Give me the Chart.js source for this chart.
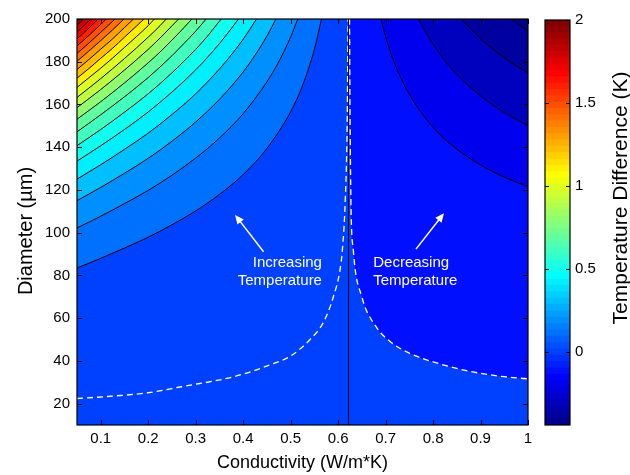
<!DOCTYPE html>
<html><head><meta charset="utf-8">
<script src="https://cdn.jsdelivr.net/npm/chart.js@4.4.0/dist/chart.umd.min.js"></script>
<style>
html,body{margin:0;padding:0;background:#fff;}
#wrap{position:relative;width:630px;height:475px;}
#wrap canvas{position:absolute;left:0;top:0;}
</style></head><body>
<div id="wrap"><canvas id="main" width="630" height="475"></canvas><canvas id="cbar" width="630" height="475"></canvas></div>
<script>
// ---------- data ----------
const xTicks = [0.1,0.2,0.3,0.4,0.5,0.6,0.7,0.8,0.9,1];
const yTicks = [20,40,60,80,100,120,140,160,180,200];
const cbTicks = [0,0.5,1,1.5,2];
const xRange = [0.05, 1];
const yRange = [10, 200];
const cRange = [-0.44, 2];

// positive contour levels (left of the zero line), points [conductivity, diameter]
const posLevels = [0.1,0.2,0.3,0.4,0.5,0.6,0.7,0.8,0.9,1.0,1.1,1.2,1.3,1.4,1.5,1.6,1.7,1.8,1.9];
const L01 = [[0.05,83.5],[0.075,85.7],[0.1,88.0],[0.15,92.8],[0.2,97.9],[0.25,103.7],[0.3,110.2],[0.35,117.9],[0.4,127.2],[0.45,139.4],[0.5,156.6],[0.525,168.8],[0.55,185.8],[0.565,200]];
const L02 = [[0.05,102.2],[0.1,107.7],[0.15,113.6],[0.2,119.8],[0.25,126.9],[0.3,134.9],[0.35,144.3],[0.4,155.7],[0.45,170.6],[0.475,180.0],[0.5,191.6],[0.515,200]];
const L03 = [[0.05,115.0],[0.1,121.2],[0.15,127.8],[0.2,134.8],[0.25,142.8],[0.3,151.8],[0.35,162.4],[0.4,175.2],[0.425,183.0],[0.45,192.0],[0.469,200]];
const L04 = [[0.05,125.1],[0.1,131.8],[0.15,139.0],[0.2,146.6],[0.25,155.3],[0.3,165.0],[0.35,176.6],[0.375,183.2],[0.4,190.5],[0.428,200]];
const L05 = [[0.05,133.5],[0.1,140.7],[0.15,148.3],[0.2,156.5],[0.25,165.8],[0.3,176.2],[0.325,182.1],[0.35,188.5],[0.375,195.5],[0.39,200]];
const L06 = [[0.05,140.7],[0.1,148.3],[0.15,156.4],[0.2,165.0],[0.25,174.8],[0.275,180.2],[0.3,185.8],[0.325,192.0],[0.345,197.6],[0.354,200]];
const L07 = [[0.05,147.2],[0.1,155.2],[0.15,163.6],[0.2,172.6],[0.25,182.8],[0.275,188.5],[0.3,194.3],[0.322,200]];
const L08 = [[0.05,153.1],[0.1,161.3],[0.15,170.1],[0.2,179.5],[0.225,184.6],[0.25,190.1],[0.275,195.9],[0.292,200]];
const L09 = [[0.05,158.5],[0.1,167.0],[0.15,176.1],[0.2,185.8],[0.225,191.1],[0.25,196.8],[0.264,200]];
const L10 = [[0.05,163.3],[0.1,172.1],[0.15,181.5],[0.175,186.4],[0.2,191.5],[0.225,196.9],[0.238,200]];
const L11 = [[0.05,168.0],[0.1,177.0],[0.125,181.7],[0.15,186.7],[0.175,191.7],[0.2,196.9],[0.213,200]];
const L12 = [[0.05,172.3],[0.075,176.8],[0.1,181.6],[0.125,186.3],[0.15,191.5],[0.175,196.6],[0.191,200]];
const L13 = [[0.05,176.4],[0.075,181.0],[0.1,185.9],[0.125,190.7],[0.15,196.0],[0.169,200]];
const L14 = [[0.05,180.2],[0.075,185.0],[0.1,189.9],[0.125,194.9],[0.149,200]];
const L15 = [[0.05,183.9],[0.075,188.7],[0.1,193.8],[0.12,197.9],[0.130,200]];
const L16 = [[0.05,187.4],[0.075,192.3],[0.1,197.5],[0.112,200]];
const L17 = [[0.05,190.7],[0.075,195.7],[0.095,200]];
const L18 = [[0.05,193.9],[0.065,197.0],[0.080,200]];
const L19 = [[0.05,197.0],[0.064,200]];

// negative contour levels (right of the zero line)
const negLevels = [-0.1,-0.2,-0.3,-0.4];
const N01 = [[0.690,200],[0.70,191.6],[0.71,184.6],[0.725,175.9],[0.75,164.7],[0.8,149.3],[0.85,139.1],[0.9,131.7],[0.95,126.0],[1.0,121.5]];
const N02 = [[0.769,200],[0.775,197.6],[0.8,188.2],[0.825,180.5],[0.85,174.1],[0.9,164.0],[0.95,156.2],[1.0,150.1]];
const N03 = [[0.860,200],[0.875,196.3],[0.9,190.8],[0.925,186.1],[0.95,181.8],[0.975,178.1],[1.0,174.7]];
const N04 = [[0.965,200],[0.975,198.3],[0.9875,196.4],[1.0,194.5]];

// zero contour and dashed boundaries
const zeroLine = [[0.622,10],[0.622,200]];
const dashLeft = [[0.05,22.4],[0.105,23.2],[0.2,25.1],[0.27,27.9],[0.38,32.6],[0.455,38],[0.5,42.3],[0.54,49.8],[0.57,58.4],[0.59,70],[0.604,82.6],[0.609,92],[0.615,115],[0.619,150],[0.621,200]];
const dashRight = [[0.624,200],[0.625,160],[0.627,115],[0.632,92],[0.65,70],[0.68,56],[0.71,49],[0.75,43.6],[0.81,38.9],[0.88,35],[0.95,32.6],[1.0,31.6]];

// annotations
const arrowInc = [[0.443,91.1],[0.383,108.3]];
const arrowDec = [[0.764,92.3],[0.823,109.1]];
const textInc = ['Increasing','Temperature'];
const textDec = ['Decreasing','Temperature'];
const textIncAnchor = [0.566, 85.7];
const textDecAnchor = [0.674, 85.7];

// ---------- colormap (MATLAB jet, 64 entries) ----------
const JET = (()=>{const m=64,n=16,u=[];
  for(let i=1;i<=n;i++)u.push(i/n); for(let i=0;i<n-1;i++)u.push(1); for(let i=n;i>=1;i--)u.push(i/n);
  const J=Array.from({length:m},()=>[0,0,0]); const g0=Math.ceil(n/2);
  u.forEach((v,j)=>{const g=g0+j+1,r=g+n,b=g-n;
    if(g>=1&&g<=m)J[g-1][1]=v; if(r>=1&&r<=m)J[r-1][0]=v; if(b>=1&&b<=m)J[b-1][2]=v;});
  return J;})();
function rgb(c){return `rgb(${Math.round(c[0]*255)},${Math.round(c[1]*255)},${Math.round(c[2]*255)})`;}
function jetColor(v){let i=Math.floor((v-cRange[0])/(cRange[1]-cRange[0])*64);i=Math.max(0,Math.min(63,i));return rgb(JET[i]);}

const FONT = "'Liberation Sans', Arial, Helvetica, sans-serif";

// ---------- main chart ----------
const datasets = [];
let ord = 1000;
function addLine(pts, extra){
  datasets.push(Object.assign({
    data: pts.map(p=>({x:p[0],y:p[1]})), pointRadius:0, pointHoverRadius:0,
    borderColor:'#000', borderWidth:1, fill:false, cubicInterpolationMode:'monotone', order: ord--
  }, extra));
}
addLine(dashRight, {fill:'end', backgroundColor: jetColor(-0.1), borderColor:'#fff', borderWidth:1.3, borderDash:[6,4]});
const negLines = [N01,N02,N03,N04];
negLines.forEach((pts,i)=>{
  const below = i+1 < negLevels.length ? negLevels[i+1] : cRange[0];
  addLine(pts, {fill:'end', backgroundColor: jetColor(below)});
});
const posLines = [L01,L02,L03,L04,L05,L06,L07,L08,L09,L10,L11,L12,L13,L14,L15,L16,L17,L18,L19];
posLines.forEach((pts,i)=>{ addLine(pts, {fill:'end', backgroundColor: jetColor(posLevels[i])}); });
addLine(dashLeft, {borderColor:'#fff', borderWidth:1.3, borderDash:[6,4]});
addLine(zeroLine, {cubicInterpolationMode:'default', tension:0});

function drawArrow(ctx, xs, ys, a){
  const x1=xs.getPixelForValue(a[0][0]), y1=ys.getPixelForValue(a[0][1]);
  const x2=xs.getPixelForValue(a[1][0]), y2=ys.getPixelForValue(a[1][1]);
  const ang=Math.atan2(y2-y1,x2-x1), hl=9, hw=4;
  ctx.strokeStyle='#fff'; ctx.fillStyle='#fff'; ctx.lineWidth=1.5;
  ctx.beginPath(); ctx.moveTo(x1,y1); ctx.lineTo(x2-Math.cos(ang)*hl*0.8,y2-Math.sin(ang)*hl*0.8); ctx.stroke();
  ctx.beginPath(); ctx.moveTo(x2,y2);
  ctx.lineTo(x2-hl*Math.cos(ang)+hw*Math.sin(ang), y2-hl*Math.sin(ang)-hw*Math.cos(ang));
  ctx.lineTo(x2-hl*Math.cos(ang)-hw*Math.sin(ang), y2-hl*Math.sin(ang)+hw*Math.cos(ang));
  ctx.closePath(); ctx.fill();
}

const mainDeco = {
  id:'mainDeco',
  beforeDatasetsDraw(chart){
    const {ctx, chartArea:a}=chart; ctx.save(); ctx.fillStyle=jetColor(0);
    ctx.fillRect(a.left,a.top,a.right-a.left,a.bottom-a.top); ctx.restore();
  },
  afterDatasetsDraw(chart){
    const {ctx}=chart, xs=chart.scales.x, ys=chart.scales.y;
    ctx.save();
    drawArrow(ctx,xs,ys,arrowInc); drawArrow(ctx,xs,ys,arrowDec);
    ctx.font=`15px ${FONT}`; ctx.fillStyle='#fff'; ctx.textBaseline='middle';
    const lh=18;
    ctx.textAlign='right';
    textInc.forEach((t,i)=>ctx.fillText(t, xs.getPixelForValue(textIncAnchor[0]), ys.getPixelForValue(textIncAnchor[1])+i*lh));
    ctx.textAlign='left';
    textDec.forEach((t,i)=>ctx.fillText(t, xs.getPixelForValue(textDecAnchor[0]), ys.getPixelForValue(textDecAnchor[1])+i*lh));
    ctx.restore();
  },
  afterDraw(chart){
    const {ctx, chartArea:a}=chart, xs=chart.scales.x, ys=chart.scales.y, tl=5;
    ctx.save(); ctx.strokeStyle='#000'; ctx.lineWidth=1;
    ctx.beginPath();
    xTicks.forEach(v=>{const p=Math.round(xs.getPixelForValue(v))+0.5;
      ctx.moveTo(p,a.bottom); ctx.lineTo(p,a.bottom-tl); ctx.moveTo(p,a.top); ctx.lineTo(p,a.top+tl);});
    yTicks.forEach(v=>{const p=Math.round(ys.getPixelForValue(v))+0.5;
      ctx.moveTo(a.left,p); ctx.lineTo(a.left+tl,p); ctx.moveTo(a.right,p); ctx.lineTo(a.right-tl,p);});
    ctx.stroke();
    ctx.lineWidth=1.2;
    ctx.strokeRect(a.left,a.top,a.right-a.left,a.bottom-a.top);
    // y-axis title
    ctx.translate(26,231); ctx.rotate(-Math.PI/2);
    ctx.font=`20px ${FONT}`; ctx.fillStyle='#000'; ctx.textAlign='center'; ctx.textBaseline='middle';
    ctx.fillText('Diameter (µm)',0,0);
    ctx.restore();
  }
};

new Chart(document.getElementById('main'), {
  type:'line',
  data:{datasets},
  options:{
    responsive:false, animation:false, devicePixelRatio:1,
    layout:{padding:{left:0, top:19, right:102, bottom:0}},
    plugins:{legend:{display:false}, tooltip:{enabled:false}},
    scales:{
      x:{type:'linear', min:xRange[0], max:xRange[1],
        afterBuildTicks(s){s.ticks=xTicks.map(v=>({value:v}));},
        afterFit(s){s.height=50;},
        grid:{display:false, drawTicks:false}, border:{display:false},
        ticks:{font:{family:FONT,size:15}, color:'#000', padding:5, maxRotation:0, autoSkip:false, callback:v=>String(v)},
        title:{display:true, text:'Conductivity (W/m*K)', color:'#000', font:{family:FONT,size:18}, padding:{top:0,bottom:1}}
      },
      y:{type:'linear', min:yRange[0], max:yRange[1],
        afterBuildTicks(s){s.ticks=yTicks.map(v=>({value:v}));},
        afterFit(s){s.width=77;},
        grid:{display:false, drawTicks:false}, border:{display:false},
        ticks:{font:{family:FONT,size:15}, color:'#000', padding:7, autoSkip:false, callback:v=>String(v)}
      }
    }
  },
  plugins:[mainDeco]
});

// ---------- colorbar ----------
const cbStep = (cRange[1]-cRange[0])/64;
const cbSets = JET.map((c,i)=>({
  data:[[cRange[0]+i*cbStep, Math.min(cRange[1], cRange[0]+(i+1.05)*cbStep)]],
  backgroundColor: rgb(c), borderWidth:0, barPercentage:1, categoryPercentage:1, grouped:false
}));
const cbDeco = {
  id:'cbDeco',
  afterDraw(chart){
    const {ctx, chartArea:a}=chart, ys=chart.scales.y, tl=4;
    ctx.save(); ctx.strokeStyle='#000'; ctx.lineWidth=1;
    ctx.beginPath();
    cbTicks.forEach(v=>{const p=Math.round(ys.getPixelForValue(v))+0.5;
      ctx.moveTo(a.left,p); ctx.lineTo(a.left+tl,p); ctx.moveTo(a.right,p); ctx.lineTo(a.right-tl,p);});
    ctx.stroke();
    ctx.lineWidth=1.2; ctx.strokeRect(a.left,a.top,a.right-a.left,a.bottom-a.top);
    ctx.translate(621,198); ctx.rotate(-Math.PI/2);
    ctx.font=`21px ${FONT}`; ctx.fillStyle='#000'; ctx.textAlign='center'; ctx.textBaseline='middle';
    ctx.fillText('Temperature Difference (K)',0,0);
    ctx.restore();
  }
};
new Chart(document.getElementById('cbar'), {
  type:'bar',
  data:{labels:['cb'], datasets:cbSets},
  options:{
    responsive:false, animation:false, devicePixelRatio:1,
    layout:{padding:{left:545, top:20, right:0, bottom:50}},
    plugins:{legend:{display:false}, tooltip:{enabled:false}},
    scales:{
      x:{display:false},
      y:{position:'right', min:cRange[0], max:cRange[1],
        afterBuildTicks(s){s.ticks=cbTicks.map(v=>({value:v}));},
        afterFit(s){s.width=60;},
        grid:{display:false, drawTicks:false}, border:{display:false},
        ticks:{font:{family:FONT,size:15}, color:'#000', padding:5, callback:v=>String(v)}
      }
    }
  },
  plugins:[cbDeco]
});
</script>
</body></html>
